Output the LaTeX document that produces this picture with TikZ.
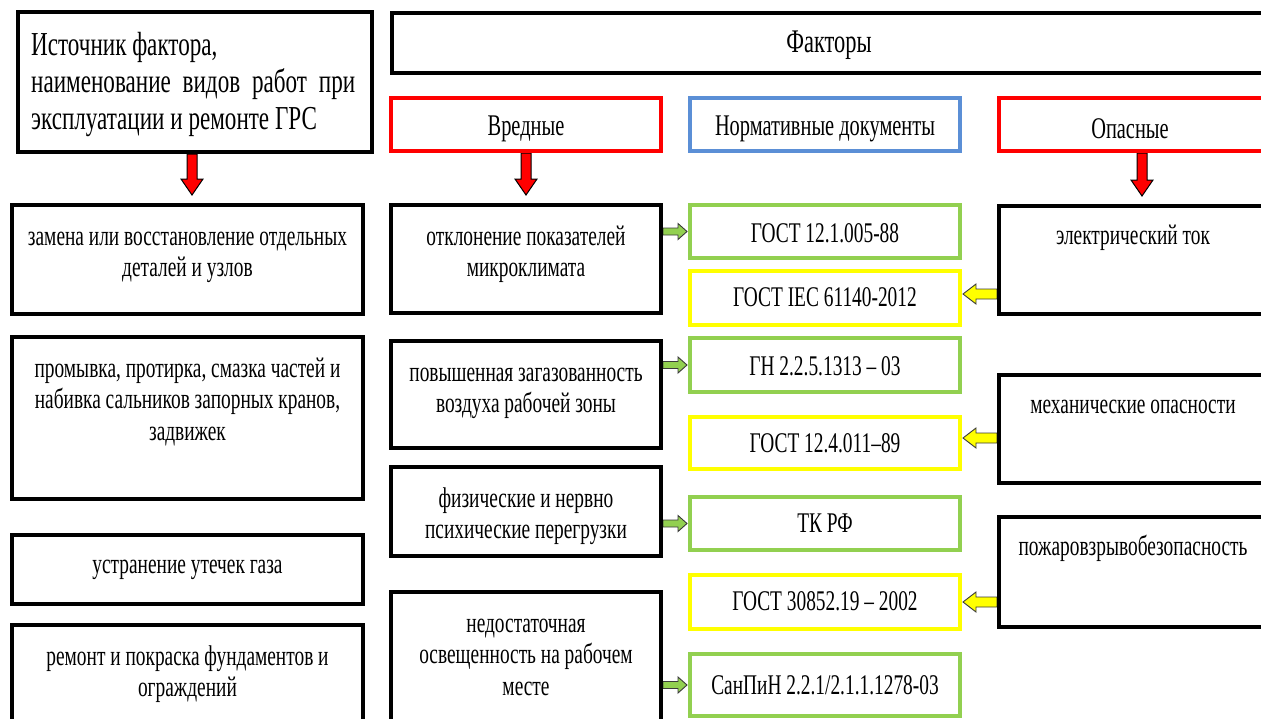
\documentclass[tikz,border=0pt]{standalone}
\usepackage{fontspec}
\setmainfont{Liberation Serif}[FakeStretch=0.68]
\newfontfamily\tlfont{Liberation Serif}[FakeStretch=0.69]
\usetikzlibrary{calc,fit,backgrounds}
\definecolor{cred}{HTML}{FF0000}
\definecolor{cblue}{HTML}{5B8FD6}
\definecolor{cgreen}{HTML}{92D050}
\definecolor{cyel}{HTML}{FFFF00}
\definecolor{cout}{HTML}{3A3A3A}

% horizontal block arrow: style, from (x used), to (x,y used), shaft half, head half, head length
\newcommand\harrow[6]{%
 \draw[#1] let \p1=(#2), \p2=(#3), \n1={sign(\x2-\x1)} in
 (\x1,{\y2+#4}) -- ({\x2-(\n1)*(#6)},{\y2+#4}) -- ({\x2-(\n1)*(#6)},{\y2+#5})
 -- (\x2,\y2) -- ({\x2-(\n1)*(#6)},{\y2-#5}) -- ({\x2-(\n1)*(#6)},{\y2-#4})
 -- (\x1,{\y2-#4}) -- cycle;}
% vertical (downward) block arrow: style, from, to (y used), shaft half, head half, head length, gap
\newcommand\varrow[7]{%
 \draw[#1] let \p1=(#2), \p2=(#3) in
 ({\x1-#4},\y1) -- ({\x1-#4},{\y2+#7+#6}) -- ({\x1-#5},{\y2+#7+#6})
 -- (\x1,{\y2+#7}) -- ({\x1+#5},{\y2+#7+#6}) -- ({\x1+#4},{\y2+#7+#6})
 -- ({\x1+#4},\y1) -- cycle;}

\begin{document}
\begin{tikzpicture}[x=1pt,y=-1pt,
  blk/.style={draw=black, line width=4pt, fill=white, inner sep=0pt},
  redbox/.style={draw=cred, line width=4pt, fill=white, inner sep=0pt},
  bluebox/.style={draw=cblue, line width=4pt, fill=white, inner sep=0pt},
  grnbox/.style={draw=cgreen, line width=4pt, fill=white, inner sep=0pt},
  yelbox/.style={draw=cyel, line width=4pt, fill=white, inner sep=0pt},
  txt/.style={font=\fontsize{28.5}{31.5}\selectfont, align=center, inner sep=0pt, anchor=north},
  ctxt/.style={font=\fontsize{28.5}{31.5}\selectfont, align=center, inner sep=0pt},
  htxt/.style={font=\fontsize{30}{33}\selectfont, align=center, inner sep=0pt},
  redarr/.style={draw=black, line width=1pt, fill=cred},
  grnarr/.style={draw=cout, line width=0.9pt, fill=cgreen},
  yelarr/.style={draw=cout, line width=0.9pt, fill=cyel}]

\useasboundingbox (0,0) rectangle (1261,718);

% top row
\node[blk, fit={(18,12) (372,152)}] (src) {};
\node[blk, fit={(392,13) (1266,73)}] (fact) {};
\node[redbox, fit={(391,98) (661,151)}] (vred) {};
\node[bluebox, fit={(690,98) (960,151)}] (norm) {};
\node[redbox, fit={(999,98) (1287,151)}] (opas) {};

% left column
\node[blk, fit={(12,205) (363,314)}] (L1) {};
\node[blk, fit={(12,337) (363,499)}] (L2) {};
\node[blk, fit={(12,535) (363,604)}] (L3) {};
\node[blk, fit={(12,625) (363,735)}] (L4) {};

% middle column
\node[blk, fit={(391,205) (661,313)}] (M1) {};
\node[blk, fit={(391,341) (661,448)}] (M2) {};
\node[blk, fit={(391,467) (661,556)}] (M3) {};
\node[blk, fit={(391,592) (661,735)}] (M4) {};

% documents column
\node[grnbox, fit={(690,205) (960,258)}] (D1) {};
\node[yelbox, fit={(690,271) (960,325)}] (D2) {};
\node[grnbox, fit={(690,338) (960,392)}] (D3) {};
\node[yelbox, fit={(690,417) (960,469)}] (D4) {};
\node[grnbox, fit={(690,497) (960,550)}] (D5) {};
\node[yelbox, fit={(690,575) (960,629)}] (D6) {};
\node[grnbox, fit={(690,654) (960,716)}] (D7) {};

% right column
\node[blk, fit={(999,206) (1267,314)}] (R1) {};
\node[blk, fit={(999,375) (1267,483)}] (R2) {};
\node[blk, fit={(999,517) (1267,627)}] (R3) {};

% texts
\node[anchor=north west, inner sep=0pt, text width=324pt, align=flush left,
  font=\tlfont\fontsize{33.5}{37}\selectfont] (srct) at ([shift={(15,19.5)}]src.north west)
  {\spaceskip=0pt\xspaceskip=0pt\strut Источник фактора,\\\makebox[324pt][s]{наименование видов работ при}\\эксплуатации и ремонте ГРС};
\node[htxt, font=\fontsize{33}{36}\selectfont] (factt) at ([shift={(0,2.5)}]fact.center) {Факторы};
\node[htxt] (vredt) at ([shift={(0,4.5)}]vred.center) {Вредные};
\node[htxt] (normt) at ([shift={(0,4.5)}]norm.center) {Нормативные документы};
\node[htxt] (opast) at ([shift={(-13,4.5)}]opas.center) {Опасные};

\node[txt] (L1t) at ([shift={(0,20)}]L1.north) {\strut замена или восстановление отдельных\\деталей и узлов};
\node[txt] (L2t) at ([shift={(0,20)}]L2.north) {\strut промывка, протирка, смазка частей и\\набивка сальников запорных кранов,\\задвижек};
\node[txt] (L3t) at ([shift={(0,18.5)}]L3.north) {\strut устранение утечек газа};
\node[txt] (L4t) at ([shift={(0,20)}]L4.north) {\strut ремонт и покраска фундаментов и\\ограждений};

\node[txt] (M1t) at ([shift={(0,20)}]M1.north) {\strut отклонение показателей\\микроклимата};
\node[txt] (M2t) at ([shift={(0,20)}]M2.north) {\strut повышенная загазованность\\воздуха рабочей зоны};
\node[txt] (M3t) at ([shift={(0,20)}]M3.north) {\strut физические и нервно\\психические перегрузки};
\node[txt] (M4t) at ([shift={(0,20)}]M4.north) {\strut недостаточная\\освещенность на рабочем\\месте};

\node[ctxt] (D1t) at ([shift={(0,1.5)}]D1.center) {ГОСТ 12.1.005-88};
\node[ctxt] (D2t) at ([shift={(0,-1)}]D2.center) {ГОСТ IEC 61140-2012};
\node[ctxt] (D3t) at ([shift={(0,1)}]D3.center) {ГН 2.2.5.1313 – 03};
\node[ctxt] (D4t) at (D4.center) {ГОСТ 12.4.011–89};
\node[ctxt] (D5t) at (D5.center) {ТК РФ};
\node[ctxt] (D6t) at ([shift={(0,-1)}]D6.center) {ГОСТ 30852.19 – 2002};
\node[ctxt] (D7t) at (D7.center) {СанПиН 2.2.1/2.1.1.1278-03};

\node[txt] (R1t) at ([shift={(0,18)}]R1.north) {\strut электрический ток};
\node[txt] (R2t) at ([shift={(0,18)}]R2.north) {\strut механические опасности};
\node[txt] (R3t) at ([shift={(0,18)}]R3.north) {\strut пожаровзрывобезопасность};

% arrows
\begin{scope}[on background layer]
\fill[white] (0,0) rectangle (1261,718);
\varrow{redarr}{[xshift=-3pt]src.south}{L1.north}{5pt}{11pt}{16pt}{8pt}
\varrow{redarr}{vred.south}{M1.north}{5pt}{11pt}{16pt}{8pt}
\varrow{redarr}{[xshift=-1pt]opas.south}{R1.north}{5pt}{11pt}{16pt}{8pt}

\harrow{grnarr}{M1.east}{[xshift=-1pt]D1.west}{3.5pt}{8pt}{9pt}
\harrow{grnarr}{M2.east}{[xshift=-1pt]D3.west}{3.5pt}{8pt}{9pt}
\harrow{grnarr}{M3.east}{[xshift=-1pt]D5.west}{3.5pt}{8pt}{9pt}
\harrow{grnarr}{M4.east}{[xshift=-1pt]D7.west}{3.5pt}{8pt}{9pt}

\harrow{yelarr}{R1.west}{[shift={(1pt,4pt)}]D2.east}{5pt}{10pt}{13pt}
\harrow{yelarr}{R2.west}{[shift={(1pt,5pt)}]D4.east}{5pt}{10pt}{13pt}
\harrow{yelarr}{R3.west}{[xshift=1pt]D6.east}{5pt}{10pt}{13pt}
\end{scope}
\end{tikzpicture}
\end{document}
